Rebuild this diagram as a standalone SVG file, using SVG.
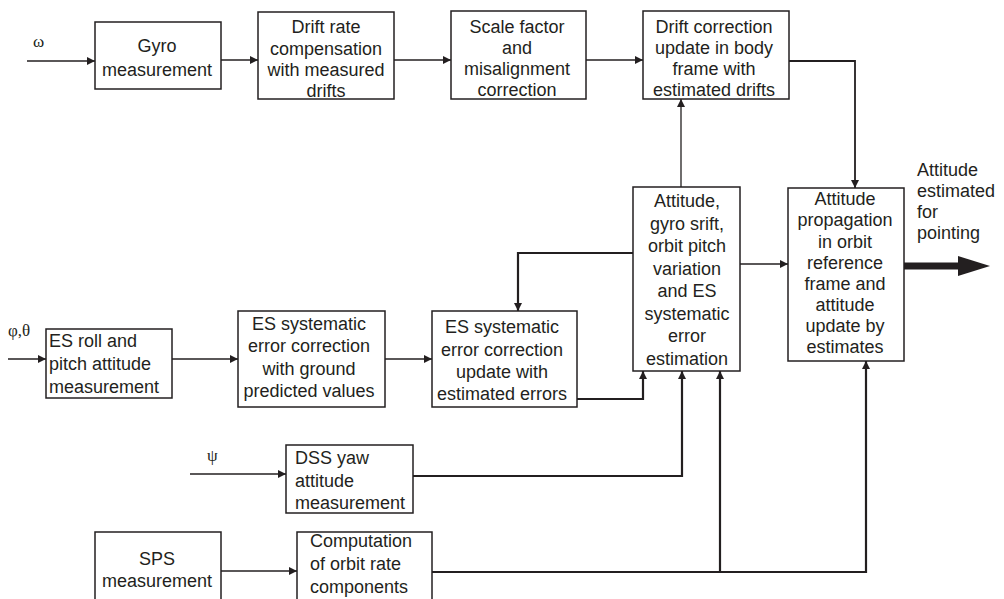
<svg xmlns="http://www.w3.org/2000/svg" width="1004" height="599" viewBox="0 0 1004 599">
<style>
.box{fill:#fff;stroke:#231f20;stroke-width:1.5}
.t{font-family:"Liberation Sans",Arial,sans-serif;font-size:18px;fill:#231f20}
.c{text-anchor:middle}
.g{font-family:"Liberation Serif","Times New Roman",serif;font-size:17px;fill:#231f20}
.ln{fill:none;stroke:#231f20;stroke-width:1.3}
.th{fill:none;stroke:#231f20;stroke-width:2.2}
</style>
<defs>
<marker id="ah" viewBox="0 0 10 10" refX="10" refY="5" markerWidth="9" markerHeight="8" markerUnits="userSpaceOnUse" orient="auto">
<path d="M0,0 L10,5 L0,10 z" fill="#231f20"/>
</marker>
</defs>
<rect width="1004" height="599" fill="#fff"/>
<g id="connectors">
<line class="ln" x1="27" y1="61" x2="95" y2="61" marker-end="url(#ah)"/>
<line class="ln" x1="221" y1="60" x2="258" y2="60" marker-end="url(#ah)"/>
<line class="ln" x1="394" y1="60" x2="451" y2="60" marker-end="url(#ah)"/>
<line class="ln" x1="586" y1="60" x2="643" y2="60" marker-end="url(#ah)"/>
<polyline class="ln" style="stroke-width:1.8" points="789,61 855,61 855,188" marker-end="url(#ah)"/>
<line class="ln" x1="681" y1="187" x2="681" y2="99" marker-end="url(#ah)"/>
<line class="ln" x1="740" y1="264" x2="788" y2="264" marker-end="url(#ah)"/>
<polyline class="th" points="633,253 518,253 518,311" marker-end="url(#ah)"/>
<polyline class="th" points="577,399 643,399 643,371" marker-end="url(#ah)"/>
<line class="ln" x1="8" y1="359" x2="46" y2="359" marker-end="url(#ah)"/>
<line class="ln" x1="172" y1="359" x2="238" y2="359" marker-end="url(#ah)"/>
<line class="ln" x1="385" y1="359" x2="432" y2="359" marker-end="url(#ah)"/>
<line class="ln" x1="190" y1="474" x2="286" y2="474" marker-end="url(#ah)"/>
<polyline class="th" points="413,476 682,476 682,371" marker-end="url(#ah)"/>
<line class="ln" x1="221" y1="571" x2="297" y2="571" marker-end="url(#ah)"/>
<polyline class="th" points="432,572 866,572 866,361" marker-end="url(#ah)"/>
<line class="th" x1="720" y1="572" x2="720" y2="371" marker-end="url(#ah)"/>
<line x1="904" y1="266" x2="962" y2="266" stroke="#231f20" stroke-width="7"/>
<polygon points="958,256 990,266 958,276" fill="#231f20"/>
</g>
<g id="labels">
<text class="g" x="33" y="47">ω</text>
<text class="g" x="8" y="336">φ,θ</text>
<text class="g" x="207" y="461">ψ</text>
<text class="t" x="917" y="176">Attitude</text>
<text class="t" x="917" y="197">estimated</text>
<text class="t" x="917" y="218">for</text>
<text class="t" x="917" y="239">pointing</text>
</g>
<g id="gyro">
<rect class="box" x="95" y="22" width="126" height="67"/>
<text class="t c" x="157" y="52">Gyro</text>
<text class="t c" x="157" y="76">measurement</text>
</g>
<g id="drift-rate">
<rect class="box" x="258" y="12" width="136" height="87"/>
<text class="t c" x="326" y="33">Drift rate</text>
<text class="t c" x="326" y="54.5">compensation</text>
<text class="t c" x="326" y="76">with measured</text>
<text class="t c" x="326" y="97">drifts</text>
</g>
<g id="scale-factor">
<rect class="box" x="451" y="11" width="135" height="88"/>
<text class="t c" x="517" y="33">Scale factor</text>
<text class="t c" x="517" y="54">and</text>
<text class="t c" x="517" y="75">misalignment</text>
<text class="t c" x="517" y="96">correction</text>
</g>
<g id="drift-correction">
<rect class="box" x="643" y="11" width="146" height="88"/>
<text class="t c" x="714" y="33">Drift correction</text>
<text class="t c" x="714" y="54">update in body</text>
<text class="t c" x="714" y="75">frame with</text>
<text class="t c" x="714" y="96">estimated drifts</text>
</g>
<g id="estimation">
<rect class="box" x="633" y="187" width="107" height="184"/>
<text class="t c" x="687" y="207">Attitude,</text>
<text class="t c" x="687" y="229.5">gyro srift,</text>
<text class="t c" x="687" y="252">orbit pitch</text>
<text class="t c" x="687" y="274.5">variation</text>
<text class="t c" x="687" y="297">and ES</text>
<text class="t c" x="687" y="319.5">systematic</text>
<text class="t c" x="687" y="342">error</text>
<text class="t c" x="687" y="364.5">estimation</text>
</g>
<g id="propagation">
<rect class="box" x="788" y="188" width="116" height="173"/>
<text class="t c" x="845" y="205">Attitude</text>
<text class="t c" x="845" y="226">propagation</text>
<text class="t c" x="845" y="247.5">in orbit</text>
<text class="t c" x="845" y="268.5">reference</text>
<text class="t c" x="845" y="289.5">frame and</text>
<text class="t c" x="845" y="311">attitude</text>
<text class="t c" x="845" y="332">update by</text>
<text class="t c" x="845" y="353">estimates</text>
</g>
<g id="es-roll">
<rect class="box" x="46" y="329" width="126" height="69"/>
<text class="t" x="49" y="347">ES roll and</text>
<text class="t" x="49" y="370">pitch attitude</text>
<text class="t" x="49" y="392.5">measurement</text>
</g>
<g id="es-systematic">
<rect class="box" x="238" y="311" width="147" height="96"/>
<text class="t c" x="309" y="329.5">ES systematic</text>
<text class="t c" x="309" y="352">error correction</text>
<text class="t c" x="309" y="374.5">with ground</text>
<text class="t c" x="309" y="397">predicted values</text>
</g>
<g id="es-update">
<rect class="box" x="432" y="311" width="145" height="96"/>
<text class="t c" x="502" y="333">ES systematic</text>
<text class="t c" x="502" y="355.5">error correction</text>
<text class="t c" x="502" y="378">update with</text>
<text class="t c" x="502" y="400">estimated errors</text>
</g>
<g id="dss">
<rect class="box" x="286" y="445" width="127" height="68"/>
<text class="t" x="295" y="464">DSS yaw</text>
<text class="t" x="295" y="486.5">attitude</text>
<text class="t" x="295" y="509">measurement</text>
</g>
<g id="sps">
<rect class="box" x="95" y="532" width="126" height="72"/>
<text class="t c" x="157" y="565">SPS</text>
<text class="t c" x="157" y="587">measurement</text>
</g>
<g id="computation">
<rect class="box" x="297" y="532" width="135" height="72"/>
<text class="t" x="310" y="547">Computation</text>
<text class="t" x="310" y="570">of orbit rate</text>
<text class="t" x="310" y="592.5">components</text>
</g>
</svg>
